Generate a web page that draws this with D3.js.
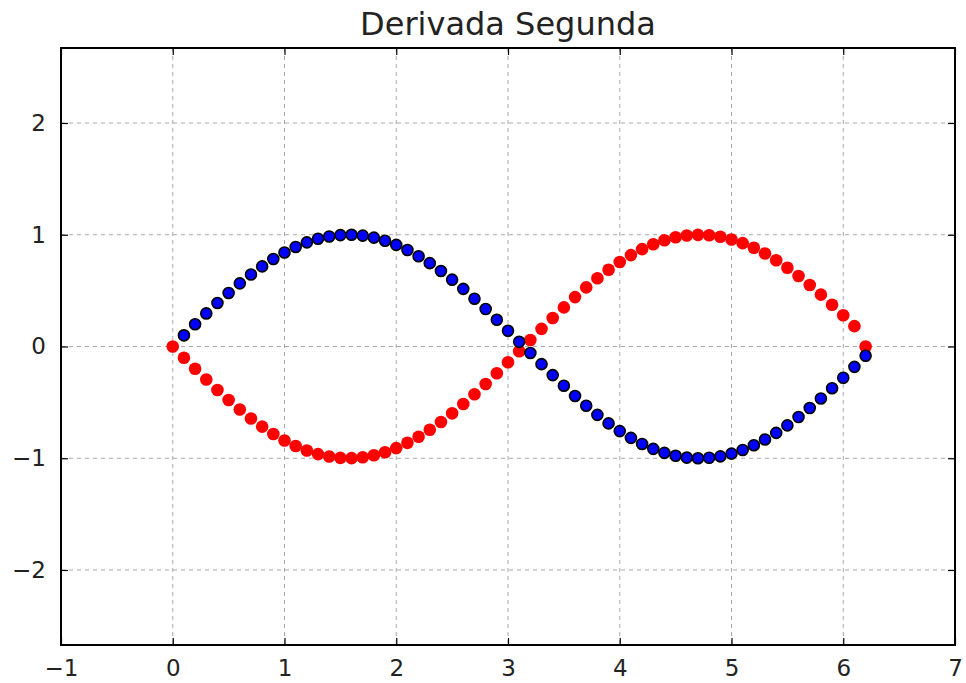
<!DOCTYPE html>
<html>
<head>
<meta charset="utf-8">
<script src="https://cdn.jsdelivr.net/npm/d3@7/dist/d3.min.js"></script>
<style>
html,body{margin:0;padding:0;background:#fff;}
svg{display:block;}
text{font-family:"DejaVu Sans",sans-serif;fill:#222;}
</style>
</head>
<body>
<svg id="chart" width="966" height="683"></svg>
<script>
const title = "Derivada Segunda";
const xTicks = [-1, 0, 1, 2, 3, 4, 5, 6, 7];
const yTicks = [-2, -1, 0, 1, 2];
const xValues = [0.0,0.1,0.2,0.3,0.4,0.5,0.6,0.7,0.8,0.9,1.0,1.1,1.2,1.3,1.4,1.5,1.6,1.7,1.8,1.9,2.0,2.1,2.2,2.3,2.4,2.5,2.6,2.7,2.8,2.9,3.0,3.1,3.2,3.3,3.4,3.5,3.6,3.7,3.8,3.9,4.0,4.1,4.2,4.3,4.4,4.5,4.6,4.7,4.8,4.9,5.0,5.1,5.2,5.3,5.4,5.5,5.6,5.7,5.8,5.9,6.0,6.1,6.2];
const blueValues = [null,0.100,0.199,0.296,0.389,0.479,0.565,0.644,0.717,0.783,0.841,0.891,0.932,0.964,0.985,0.997,1.000,0.992,0.974,0.946,0.909,0.863,0.808,0.746,0.676,0.598,0.516,0.427,0.335,0.239,0.141,0.042,-0.058,-0.158,-0.256,-0.351,-0.443,-0.530,-0.612,-0.688,-0.757,-0.818,-0.872,-0.916,-0.952,-0.978,-0.994,-1.000,-0.996,-0.983,-0.959,-0.926,-0.884,-0.832,-0.773,-0.706,-0.631,-0.551,-0.465,-0.374,-0.279,-0.182,-0.083];
const redValues = [0.000,-0.100,-0.199,-0.295,-0.389,-0.479,-0.564,-0.644,-0.717,-0.783,-0.841,-0.890,-0.931,-0.963,-0.985,-0.997,-0.999,-0.991,-0.973,-0.946,-0.909,-0.862,-0.808,-0.745,-0.675,-0.598,-0.515,-0.427,-0.335,-0.239,-0.141,-0.042,0.058,0.158,0.255,0.350,0.442,0.529,0.611,0.687,0.756,0.818,0.871,0.915,0.951,0.977,0.993,0.999,0.995,0.982,0.958,0.925,0.883,0.832,0.772,0.705,0.631,0.550,0.464,0.374,0.279,0.182,0.000];

const W = 966, H = 683;
const m = {left: 61, right: 11, top: 48, bottom: 38};
const iw = W - m.left - m.right, ih = H - m.top - m.bottom;
const svg = d3.select("#chart");
const x = d3.scaleLinear().domain([-1, 7]).range([0, iw]);
const yHalf = (ih / 2) / (iw / 8);
const y = d3.scaleLinear().domain([-yHalf, yHalf]).range([ih, 0]);
const g = svg.append("g").attr("transform", `translate(${m.left},${m.top})`);

// grid
g.append("g").selectAll("line").data(xTicks.slice(1, -1)).join("line")
  .attr("x1", d => x(d)).attr("x2", d => x(d)).attr("y1", 0).attr("y2", ih)
  .attr("stroke", "#a8a8a8").attr("stroke-width", 1).attr("stroke-dasharray", "4,4");
g.append("g").selectAll("line").data(yTicks).join("line")
  .attr("y1", d => y(d)).attr("y2", d => y(d)).attr("x1", 0).attr("x2", iw)
  .attr("stroke", "#a8a8a8").attr("stroke-width", 1).attr("stroke-dasharray", "4,4");

// points
const pts = xValues.map((xv, i) => ({x: xv, b: blueValues[i], r: redValues[i]}));
g.append("g").selectAll("circle").data(pts.filter(d => d.r !== null)).join("circle")
  .attr("cx", d => x(d.x)).attr("cy", d => y(d.r)).attr("r", 6.3)
  .attr("fill", "#ff0000");
g.append("g").selectAll("circle").data(pts.filter(d => d.b !== null)).join("circle")
  .attr("cx", d => x(d.x)).attr("cy", d => y(d.b)).attr("r", 5.5)
  .attr("fill", "#0000ff").attr("stroke", "#000").attr("stroke-width", 1.6);

// axes (ticks inward, all sides)
const tl = 7;
const fs = 23;
const xb = g.append("g").attr("transform", `translate(0,${ih})`)
  .call(d3.axisBottom(x).tickValues(xTicks).tickSize(-tl).tickPadding(tl + 8).tickFormat(d3.format("d")));
const xt = g.append("g")
  .call(d3.axisTop(x).tickValues(xTicks).tickSize(-tl).tickFormat(""));
const yl = g.append("g")
  .call(d3.axisLeft(y).tickValues(yTicks).tickSize(-tl).tickPadding(tl + 8).tickFormat(d3.format("d")));
const yr = g.append("g").attr("transform", `translate(${iw},0)`)
  .call(d3.axisRight(y).tickValues(yTicks).tickSize(-tl).tickFormat(""));
[xb, xt, yl, yr].forEach(a => {
  a.select(".domain").remove();
  a.selectAll(".tick line").attr("stroke", "#000").attr("stroke-width", 1.2);
  a.selectAll("text").attr("font-size", fs).attr("fill", "#222").style("font-family", "DejaVu Sans, sans-serif");
});

// frame
g.append("rect").attr("x", 0).attr("y", 0).attr("width", iw).attr("height", ih)
  .attr("fill", "none").attr("stroke", "#000").attr("stroke-width", 2);

// title
svg.append("text").attr("x", m.left + iw / 2).attr("y", 35)
  .attr("text-anchor", "middle").attr("font-size", 32).text(title);
</script>
</body>
</html>
